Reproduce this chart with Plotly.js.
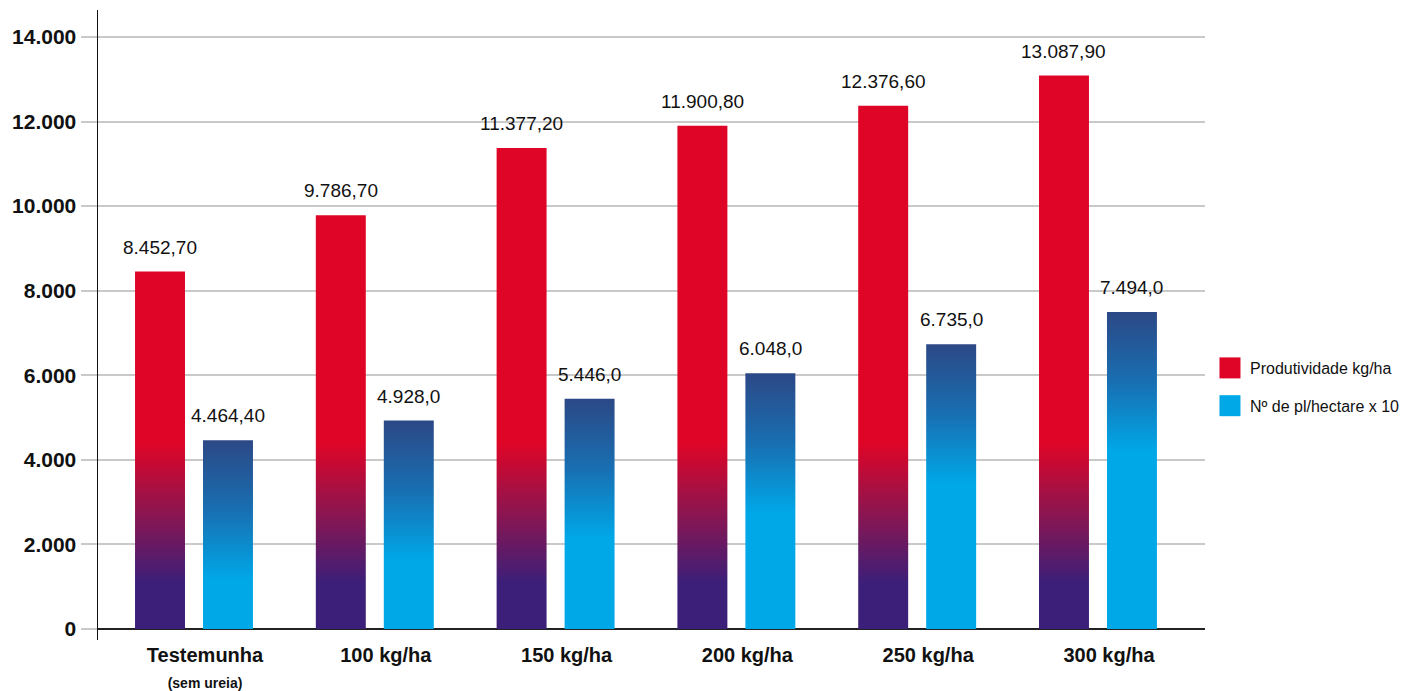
<!DOCTYPE html>
<html>
<head>
<meta charset="utf-8">
<script src="https://cdn.plot.ly/plotly-3.0.1.min.js"></script>
<style>
  html, body { margin: 0; padding: 0; background: #fff; }
  #chart { width: 1404px; height: 691px; }
</style>
</head>
<body>
<div id="chart"></div>
<script>
// ---- data ----
const categories = [
  'Testemunha<br><span style="font-size:14px">(sem ureia)</span>',
  '100 kg/ha', '150 kg/ha', '200 kg/ha', '250 kg/ha', '300 kg/ha'
];
const produtividade = [8452.7, 9786.7, 11377.2, 11900.8, 12376.6, 13087.9];
const plantas = [4464.4, 4928.0, 5446.0, 6048.0, 6735.0, 7494.0];
const produtividadeLabels = ['8.452,70', '9.786,70', '11.377,20', '11.900,80', '12.376,60', '13.087,90'];
const plantasLabels = ['4.464,40', '4.928,0', '5.446,0', '6.048,0', '6.735,0', '7.494,0'];
const seriesNames = ['Produtividade kg/ha', 'Nº de pl/hectare x 10'];
const yTicks = [0, 2000, 4000, 6000, 8000, 10000, 12000, 14000];

const RED = '#DF0527';
const CYAN = '#00A8E8';
const FONT = 'Liberation Sans, Arial, sans-serif';

const traces = [
  { type: 'bar', name: seriesNames[0], x: categories, y: produtividade,
    marker: { color: RED }, hoverinfo: 'skip', legendgroup: 'a' },
  { type: 'bar', name: seriesNames[1], x: categories, y: plantas,
    marker: { color: CYAN }, hoverinfo: 'skip', legendgroup: 'b' }
];

const annotations = [];
categories.forEach((c, i) => {
  annotations.push({ x: c, y: produtividade[i], xref: 'x', yref: 'y', text: produtividadeLabels[i],
    showarrow: false, xshift: -34, yshift: 12, yanchor: 'bottom',
    font: { family: FONT, size: 19, color: '#111' } });
  annotations.push({ x: c, y: plantas[i], xref: 'x', yref: 'y', text: plantasLabels[i],
    showarrow: false, xshift: 34, yshift: 12, yanchor: 'bottom',
    font: { family: FONT, size: 19, color: '#111' } });
});

const layout = {
  width: 1404, height: 691,
  margin: { l: 98, r: 199, t: 10, b: 51, autoexpand: false },
  paper_bgcolor: '#fff', plot_bgcolor: '#fff',
  separators: ',.',
  barmode: 'group', bargap: 0.248, bargroupgap: 0.265,
  font: { family: FONT, color: '#111' },
  showlegend: true,
  legend: { x: 1.0045, xanchor: 'left', y: 0.4016, yanchor: 'middle',
    font: { family: FONT, size: 16, color: '#111' }, tracegroupgap: 14,
    bgcolor: 'rgba(0,0,0,0)' },
  xaxis: { type: 'category', range: [-0.531, 5.592], showgrid: false, showline: false,
    zeroline: false, ticks: '', ticklabelshift: 11, ticklabelstandoff: 1,
    tickfont: { family: FONT, size: 20, weight: 700, color: '#111' } },
  yaxis: { range: [-260, 14638], tickvals: yTicks, tickformat: ',.0f',
    showgrid: true, gridcolor: '#c9c9c9', gridwidth: 2,
    ticks: 'outside', ticklen: 16, tickcolor: '#c9c9c9', tickwidth: 2,
    showline: true, linecolor: '#111', linewidth: 1.5,
    zeroline: true, zerolinecolor: '#222', zerolinewidth: 1.5,
    ticklabelstandoff: 0,
    tickfont: { family: FONT, size: 21, weight: 700, color: '#111' } },
  annotations: annotations
};

const NS = 'http://www.w3.org/2000/svg';
function makeGrad(defs, id, y1, y2, stops) {
  const g = document.createElementNS(NS, 'linearGradient');
  g.setAttribute('id', id);
  g.setAttribute('gradientUnits', 'userSpaceOnUse');
  g.setAttribute('x1', 0); g.setAttribute('x2', 0);
  g.setAttribute('y1', y1); g.setAttribute('y2', y2);
  stops.forEach(s => {
    const st = document.createElementNS(NS, 'stop');
    st.setAttribute('offset', s[0]);
    st.setAttribute('stop-color', s[1]);
    g.appendChild(st);
  });
  defs.appendChild(g);
}

Plotly.newPlot('chart', traces, layout, { staticPlot: true }).then(gd => {
  const svg = gd.querySelector('.main-svg');
  let defs = svg.querySelector('defs');
  if (!defs) { defs = document.createElementNS(NS, 'defs'); svg.insertBefore(defs, svg.firstChild); }
  const ya = gd._fullLayout.yaxis;
  makeGrad(defs, 'gradRed', ya.l2p(4400), ya.l2p(1090),
    [[0, '#DF0527'], [0.5, '#8C1550'], [1, '#3C1F79']]);
  const barTraces = gd.querySelectorAll('.barlayer .trace.bars');
  barTraces.forEach((tr, ti) => {
    tr.querySelectorAll('.point path').forEach((p, pi) => {
      if (ti === 0) {
        p.style.fill = 'url(#gradRed)';
      } else {
        const bb = p.getBBox();
        const id = 'gradBlue' + pi;
        makeGrad(defs, id, bb.y, bb.y + 140,
          [[0, '#2C4886'], [0.5, '#186FB2'], [1, '#00A8E8']]);
        p.style.fill = 'url(#' + id + ')';
      }
    });
  });
  gd.querySelectorAll('.legend .legendpoints path').forEach(p => {
    p.setAttribute('d', 'M10.5,10.5H-10.5V-10.5H10.5Z');
  });
});
</script>
</body>
</html>
